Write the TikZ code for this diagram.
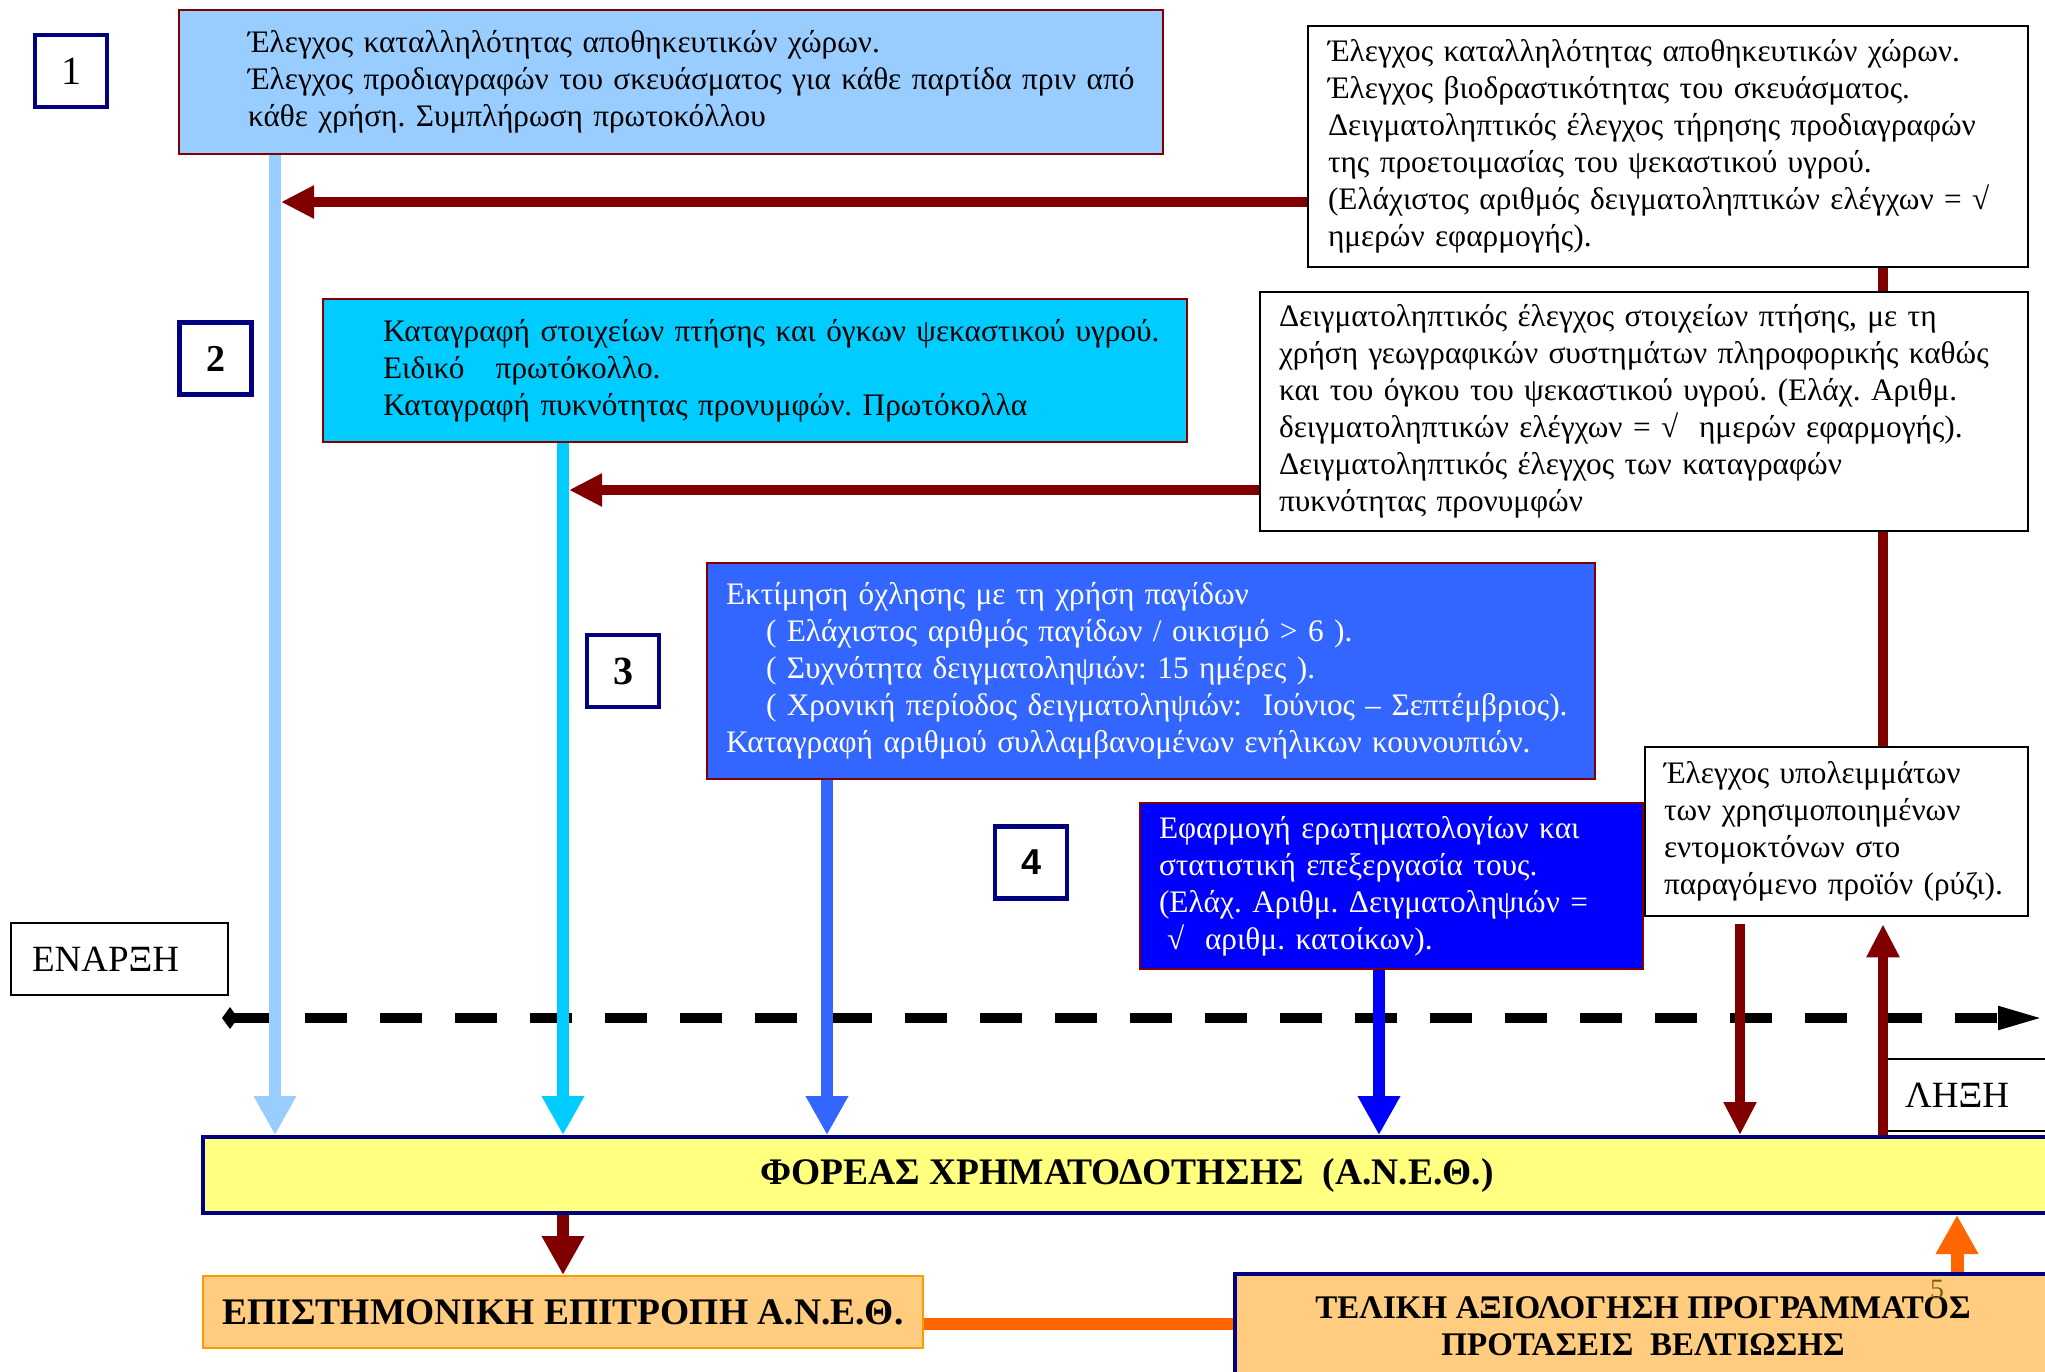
\documentclass[tikz,border=0pt]{standalone}
\usepackage{fontspec}
\setmainfont{Liberation Serif}
\newfontfamily\numsans{Liberation Sans}
\usepackage{tikz}
\usetikzlibrary{backgrounds}
\usetikzlibrary{arrows.meta, positioning}
\definecolor{darkred}{HTML}{800000}
\definecolor{navy}{HTML}{000080}
\definecolor{paleblue}{HTML}{99CCFF}
\definecolor{skyblue}{HTML}{00CCFF}
\definecolor{midblue}{HTML}{3366FF}
\definecolor{pureblue}{HTML}{0000FF}
\definecolor{lightyellow}{HTML}{FFFF80}
\definecolor{peach}{HTML}{FFCC80}
\definecolor{amber}{HTML}{FF9900}
\definecolor{deeporange}{HTML}{FF6600}
\definecolor{pagebrown}{HTML}{7F6000}
\frenchspacing
\newcommand{\bodyfont}{\fontsize{31.3}{37}\selectfont}
\newcommand{\titlefont}{\fontsize{37.5}{40}\selectfont\bfseries}
\newcommand{\drawNumBox}[4]{\node[numbox, font=#4] (#1) at (#2) {#3};}
\tikzset{
    panel/.style={rectangle, draw=darkred, line width=2pt, inner xsep=0pt, inner ysep=0pt, align=left, font=\bodyfont},
    note/.style={panel, draw=black, line width=2.5pt, fill=white},
    numbox/.style={rectangle, draw=navy, line width=4.5pt, fill=white, inner sep=0pt, minimum size=72pt},
    endpoint/.style={rectangle, draw=black, line width=2pt, fill=white, inner xsep=0pt, align=left, minimum height=72pt, font=\fontsize{37}{40}\selectfont},
    band/.style={rectangle, draw=navy, line width=4pt, inner sep=0pt, align=center, font=\titlefont},
    feed/.style={line width=12pt, -{Triangle[length=39pt, width=40pt]}},
    back/.style={darkred, line width=10pt, -{Triangle[length=33pt, width=31pt]}},
    timeline/.style={line width=10pt, dash pattern=on 42pt off 33pt, {Diamond[length=16pt, width=22pt]}-{Triangle[length=47pt, width=21pt]}}}

\begin{document}
\begin{tikzpicture}[x=1pt, y=-1pt]
\useasboundingbox (0,0) rectangle (2045,1371);
\drawNumBox{n1}{71,71}{1}{\fontsize{40}{40}\selectfont}
\drawNumBox{n2}{215.5,358.5}{2}{\fontsize{38}{38}\selectfont\bfseries}
\drawNumBox{n3}{623,671}{3}{\fontsize{40}{40}\selectfont\bfseries}
\drawNumBox{n4}{1031,862.5}{4}{\fontsize{36}{36}\selectfont\numsans\bfseries}
\node[panel, fill=paleblue, text width=984pt, minimum height=144pt] (chk1) at (671,82)
    {\leftskip=69pt Έλεγχος καταλληλότητας αποθηκευτικών χώρων.\\
     Έλεγχος προδιαγραφών του σκευάσματος για κάθε παρτίδα πριν από\\
     κάθε χρήση. Συμπλήρωση πρωτοκόλλου\par};
\node[note, text width=720pt, minimum height=241pt] (ctl1) at (1668,146.5)
    {\leftskip=20pt Έλεγχος καταλληλότητας αποθηκευτικών χώρων.\\
     Έλεγχος βιοδραστικότητας του σκευάσματος.\\
     Δειγματοληπτικός έλεγχος τήρησης προδιαγραφών\\
     της προετοιμασίας του ψεκαστικού υγρού.\\
     (Ελάχιστος αριθμός δειγματοληπτικών ελέγχων = √\\
     ημερών εφαρμογής).\par};
\node[panel, fill=skyblue, text width=864pt, minimum height=143pt] (rec2) at (755,370.5)
    {\leftskip=60pt Καταγραφή στοιχείων πτήσης και όγκων ψεκαστικού υγρού.\\
     Ειδικό\ \ \ πρωτόκολλο.\\
     Καταγραφή πυκνότητας προνυμφών. Πρωτόκολλα\par};
\node[note, text width=768pt, minimum height=239pt] (ctl2) at (1644,411.5)
    {\leftskip=19pt Δειγματοληπτικός έλεγχος στοιχείων πτήσης, με τη\\
     χρήση γεωγραφικών συστημάτων πληροφορικής καθώς\\
     και του όγκου του ψεκαστικού υγρού. (Ελάχ. Αριθμ.\\
     δειγματοληπτικών ελέγχων = √\ \ ημερών εφαρμογής).\\
     Δειγματοληπτικός έλεγχος των καταγραφών\\
     πυκνότητας προνυμφών\par};
\node[panel, fill=midblue, text=white, text width=888pt, minimum height=216pt] (trap3) at (1151,671)
    {\leftskip=19pt Εκτίμηση όχλησης με τη χρήση παγίδων\\
     \hspace*{40pt}( Ελάχιστος αριθμός παγίδων / οικισμό > 6 ).\\
     \hspace*{40pt}( Συχνότητα δειγματοληψιών: 15 ημέρες ).\\
     \hspace*{40pt}( Χρονική περίοδος δειγματοληψιών:\ \ Ιούνιος – Σεπτέμβριος).\\
     Καταγραφή αριθμού συλλαμβανομένων ενήλικων κουνουπιών.\par};
\node[panel, fill=pureblue, text=white, text width=503pt, minimum height=166pt] (qst4) at (1391.5,886)
    {\leftskip=19pt Εφαρμογή ερωτηματολογίων και\\
     στατιστική επεξεργασία τους.\\
     (Ελάχ. Αριθμ. Δειγματοληψιών =\\
     \hspace*{8pt}√\ \ αριθμ. κατοίκων).\par};
\node[note, text width=383pt, minimum height=169pt] (res5) at (1836.5,831.5)
    {\leftskip=19pt Έλεγχος υπολειμμάτων\\
     των χρησιμοποιημένων\\
     εντομοκτόνων στο\\
     παραγόμενο προϊόν (ρύζι).\par};
\node[endpoint, text width=217pt] (start) at (119.5,959) {\leftskip=21pt ΕΝΑΡΞΗ\par};
\node[endpoint, text width=180pt] (end) at (1973,1095) {\leftskip=22pt ΛΗΞΗ\par};
\node[band, fill=lightyellow, minimum width=1848pt, minimum height=76pt] (fund) at (1127,1175)
    {ΦΟΡΕΑΣ ΧΡΗΜΑΤΟΔΟΤΗΣΗΣ\ \ (Α.Ν.Ε.Θ.)};
\node[band, draw=amber, line width=2pt, fill=peach, minimum width=720pt, minimum height=72pt] (sci) at (563,1312)
    {ΕΠΙΣΤΗΜΟΝΙΚΗ ΕΠΙΤΡΟΠΗ Α.Ν.Ε.Θ.};
\node[band, fill=peach, minimum width=816pt, minimum height=104pt, font=\fontsize{33}{37}\selectfont\bfseries] (final) at (1643,1326)
    {ΤΕΛΙΚΗ ΑΞΙΟΛΟΓΗΣΗ ΠΡΟΓΡΑΜΜΑΤΟΣ\\ΠΡΟΤΑΣΕΙΣ\ \ ΒΕΛΤΙΩΣΗΣ};
\node[text=pagebrown, font=\fontsize{28}{28}\selectfont, inner sep=0pt] (pgno) at (1937,1289) {5};
\coordinate (c1) at (275,0);
\coordinate (c2) at (563,0);
\coordinate (c3) at (827,0);
\coordinate (c4) at (1379,0);
\coordinate (c5) at (1740,0);
\coordinate (c6) at (1883,0);
\coordinate (c7) at (1957,0);
\coordinate (r1) at (281,202);
\coordinate (r2) at (569,490);
\coordinate (o1) at (0,1324);
\coordinate (t0) at (222,1018);
\coordinate (t1) at (2045,1018);
\begin{pgfonlayer}{background}
\draw[darkred, line width=10pt] (ctl1.south -| c6) -- (res5.north -| c6);
\end{pgfonlayer}
\draw[timeline] (t0) -- (t1);
\draw[deeporange, line width=12pt] (sci.east |- o1) -- (final.west |- o1);
\path
    (chk1.south -| c1)  edge [feed, paleblue]   (fund.north -| c1)
    (rec2.south -| c2)  edge [feed, skyblue]    (fund.north -| c2)
    (trap3.south -| c3) edge [feed, midblue]    (fund.north -| c3)
    (qst4.south -| c4)  edge [feed, pureblue]   (fund.north -| c4)
    (fund.south -| c2)  edge [feed, darkred]    (sci.north -| c2)
    (final.north -| c7) edge [feed, deeporange, line width=13pt] (fund.south -| c7)
    (ctl1.west |- r1)   edge [back]             (r1)
    (ctl2.west |- r2)   edge [back]             (r2)
    (res5.south -| c5)  edge [back, shorten <=7pt] (fund.north -| c5)
    (fund.north -| c6)  edge [back, shorten >=7pt] (res5.south -| c6);
\end{tikzpicture}
\end{document}
